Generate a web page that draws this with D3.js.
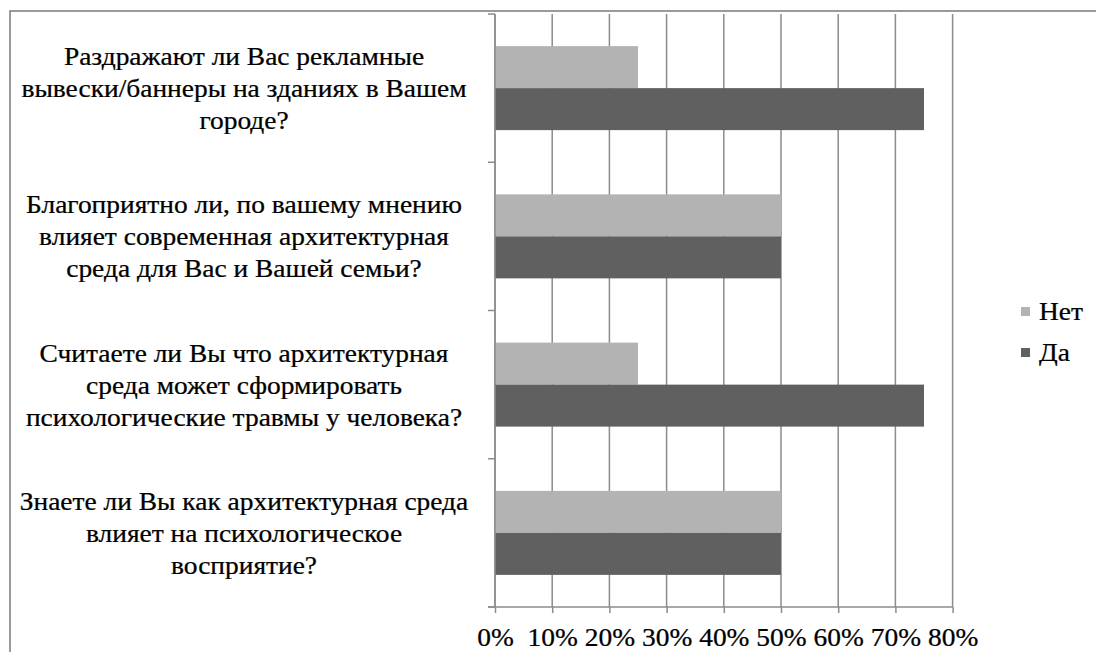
<!DOCTYPE html>
<html>
<head>
<meta charset="utf-8">
<script src="https://cdn.jsdelivr.net/npm/d3@7"></script>
<style>
  body { margin: 0; background: #fff; }
  svg text { font-family: "Liberation Serif", "Times New Roman", serif; fill: #000; stroke: #000; stroke-width: 0.25px; }
</style>
</head>
<body>
<div id="chart"></div>
<script>
// Questions (top to bottom), already split into lines as in the source
const questions = [
    ["Раздражают ли Вас рекламные", "вывески/баннеры на зданиях в Вашем", "городе?"],
    ["Благоприятно ли, по вашему мнению", "влияет современная архитектурная", "среда для Вас и Вашей семьи?"],
    ["Считаете ли Вы что архитектурная", "среда может сформировать", "психологические травмы у человека?"],
    ["Знаете ли Вы как архитектурная среда", "влияет на психологическое", "восприятие?"]
];
const series = ["Нет", "Да"];
const netValues = [0.25, 0.50, 0.25, 0.50];
const daValues = [0.75, 0.50, 0.75, 0.50];
const xTicks = [0, 0.1, 0.2, 0.3, 0.4, 0.5, 0.6, 0.7, 0.8];

const colors = { "Нет": "#b3b3b3", "Да": "#606060" };
const gridColor = "#8c8c8c";
const fontSize = 24.5;
const stretch = 1.12; // text in the source is a bit wider than Times

const W = 1096, H = 652;
const svg = d3.select("#chart").append("svg")
    .attr("width", W)
    .attr("height", H);

// outer frame
svg.append("rect")
    .attr("x", 10).attr("y", 11)
    .attr("width", W + 20).attr("height", H + 20)
    .attr("fill", "none")
    .attr("stroke", "#7a7a7a")
    .attr("stroke-width", 1.5);

const plotLeft = 495, plotRight = 952.6, plotTop = 14, plotBottom = 607;

const x = d3.scaleLinear().domain([0, 0.8]).range([plotLeft, plotRight]);
const keys = questions.map((q, i) => i);
const y0 = d3.scaleBand().domain(keys).range([plotTop, plotBottom]).padding(0);
const y1 = d3.scaleBand().domain(series).range([0, y0.bandwidth()])
    .paddingInner(0).paddingOuter(0.765);

// vertical gridlines
svg.append("g").selectAll("line")
    .data(xTicks)
    .enter().append("line")
    .attr("x1", d => x(d)).attr("x2", d => x(d))
    .attr("y1", plotTop).attr("y2", plotBottom)
    .attr("stroke", gridColor)
    .attr("stroke-width", 1.5);

// bars
const rows = keys.map(i => ({ i, "Нет": netValues[i], "Да": daValues[i] }));
const groups = svg.append("g").selectAll("g")
    .data(rows)
    .enter().append("g")
    .attr("transform", d => `translate(0, ${y0(d.i)})`);

groups.selectAll("rect")
    .data(d => series.map(s => ({ s, v: d[s] })))
    .enter().append("rect")
    .attr("x", x(0))
    .attr("y", d => y1(d.s))
    .attr("width", d => x(d.v) - x(0))
    .attr("height", y1.bandwidth())
    .attr("fill", d => colors[d.s]);

// x axis
const xAxis = svg.append("g")
    .attr("transform", `translate(0, ${plotBottom})`)
    .call(d3.axisBottom(x).tickValues(xTicks).tickSize(6).tickPadding(16)
        .tickFormat(d3.format(".0%")));
xAxis.attr("font-family", null);
xAxis.select(".domain").remove();
xAxis.append("line")
    .attr("x1", plotLeft - 7).attr("x2", plotRight)
    .attr("stroke", gridColor).attr("stroke-width", 1.5);
xAxis.selectAll(".tick line").attr("stroke", gridColor).attr("stroke-width", 1.5);
xAxis.selectAll(".tick text")
    .attr("font-size", fontSize)
    .attr("transform", `scale(${stretch},1)`);

// y axis: ticks at category boundaries
const yAxis = svg.append("g");
yAxis.append("line")
    .attr("x1", plotLeft).attr("x2", plotLeft)
    .attr("y1", plotTop).attr("y2", plotBottom)
    .attr("stroke", gridColor).attr("stroke-width", 1.5);
yAxis.selectAll(".ytick")
    .data(keys.map(k => y0(k)).concat([plotBottom]))
    .enter().append("line")
    .attr("x1", plotLeft - 7).attr("x2", plotLeft)
    .attr("y1", d => d).attr("y2", d => d)
    .attr("stroke", gridColor).attr("stroke-width", 1.5);

// category labels
const labelX = 244;
const labels = svg.append("g").selectAll("g")
    .data(rows)
    .enter().append("g")
    .attr("transform", d => `translate(${labelX}, ${y0(d.i) + y0.bandwidth() / 2}) scale(${stretch},1)`);

labels.each(function(d) {
    const lines = questions[d.i];
    d3.select(this).selectAll("text")
        .data(lines)
        .enter().append("text")
        .attr("y", (l, j) => (j - (lines.length - 1) / 2) * 32 + 9)
        .attr("text-anchor", "middle")
        .attr("font-size", fontSize)
        .text(l => l);
});

// legend
const legend = svg.append("g").selectAll("g")
    .data(series)
    .enter().append("g")
    .attr("transform", (d, i) => `translate(1021, ${312 + i * 41})`);

legend.append("rect")
    .attr("x", 0).attr("y", -5)
    .attr("width", 9).attr("height", 9)
    .attr("fill", d => colors[d]);

legend.append("text")
    .attr("transform", `translate(18, 8) scale(${stretch},1)`)
    .attr("font-size", fontSize)
    .text(d => d);
</script>
</body>
</html>
